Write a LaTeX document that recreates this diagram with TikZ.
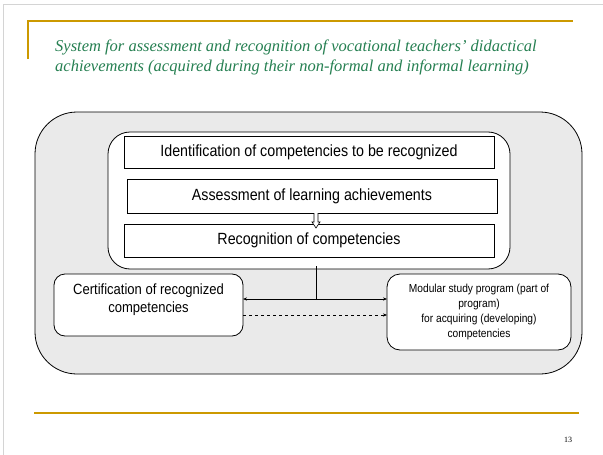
\documentclass[tikz,border=0pt]{standalone}
\usepackage{fontspec}
\setmainfont{Liberation Serif}
\newfontfamily\boxfont[FakeStretch=0.88]{Liberation Sans}
\usetikzlibrary{arrows.meta,calc}
\definecolor{gold}{RGB}{204,153,0}
\definecolor{titlegreen}{RGB}{38,128,82}
\definecolor{panelgray}{RGB}{234,234,234}
\definecolor{framegray}{RGB}{212,212,212}
\tikzset{
  plainbox/.style={draw=black, line width=0.8pt, fill=white, inner sep=0pt, outer sep=0pt,
    font=\boxfont\fontsize{16.2}{19}\selectfont, align=center},
  sidebox/.style={draw=black, line width=0.8pt, fill=white, inner sep=0pt, outer sep=0pt,
    align=center},
  titletext/.style={anchor=base west, text=titlegreen, inner sep=0pt,
    font=\fontsize{16.5}{20}\selectfont\itshape},
  goldline/.style={gold, line width=2.5pt},
  tip/.style={-{Stealth[length=4pt,width=3.2pt]}},
  bothtips/.style={{Stealth[length=4pt,width=3.2pt]}-{Stealth[length=4pt,width=3.2pt]}},
}
\begin{document}
\begin{tikzpicture}[x=1pt,y=-1pt]
\useasboundingbox (0,0) rectangle (603,455);
\fill[white] (0,0) rectangle (603,455);
\draw[framegray, line width=1.5pt] (3.5,455) -- (3.5,4.5) -- (603,4.5);
\draw[goldline] (28,59) -- (28,21) -- (573,21);
\draw[goldline] (34,413) -- (579,413);

\node[titletext] (t1) at (55,51) {System for assessment and recognition of vocational teachers’ didactical};
\node[titletext] (t2) at (55,71) {achievements (acquired during their non-formal and informal learning)};

\node[draw=black, line width=0.8pt, fill=panelgray, rounded corners=42pt,
  minimum width=547pt, minimum height=262pt, inner sep=0pt] (outer) at (308.5,243) {};
\node[draw=black, line width=0.8pt, fill=white, rounded corners=22pt,
  minimum width=402pt, minimum height=137pt, inner sep=0pt] (inner) at (309,200.5) {};

\node[plainbox, minimum width=370pt, minimum height=32pt] (b1) at (309,152) {Identification of competencies to be recognized};
\node[plainbox, minimum width=370pt, minimum height=34pt] (b2) at (312,196) {Assessment of learning achievements};
\node[plainbox, minimum width=370pt, minimum height=33pt] (b3) at (309,240.5) {Recognition of competencies};

% hollow arrow between b2 and b3
\draw[line width=0.6pt, fill=white]
  ($(b2.south)+(2,0)$) -- ++(0,9) -- ++(-2,0) -- ++(4,6) -- ++(4,-6) -- ++(-2,0) -- ++(0,-9);

\node[sidebox, rounded corners=11pt, minimum width=189pt, minimum height=62pt,
  font=\boxfont\fontsize{14.8}{18}\selectfont] (cert) at (148.5,305)
  {Certification of recognized\\competencies\\[-4pt]};
\node[sidebox, rounded corners=13pt, minimum width=184pt, minimum height=76pt,
  font=\boxfont\fontsize{11.6}{15}\selectfont] (mod) at (479,312)
  {Modular study program (part of\\program)\\for acquiring (developing)\\competencies};

\coordinate (vtop) at (316,266);
\draw[bothtips, line width=0.8pt] ([yshift=6pt]cert.east) -- ([yshift=13pt]mod.west) coordinate[pos=0.503] (mid);
\draw[line width=0.8pt] (vtop) -- (vtop |- mid);
\draw[tip, dashed, line width=0.6pt] ([yshift=-10pt]cert.east) -- ([yshift=-3pt]mod.west);

\node[font=\fontsize{8}{9}\selectfont, inner sep=0pt] (pg) at (568,440) {13};
\end{tikzpicture}
\end{document}
